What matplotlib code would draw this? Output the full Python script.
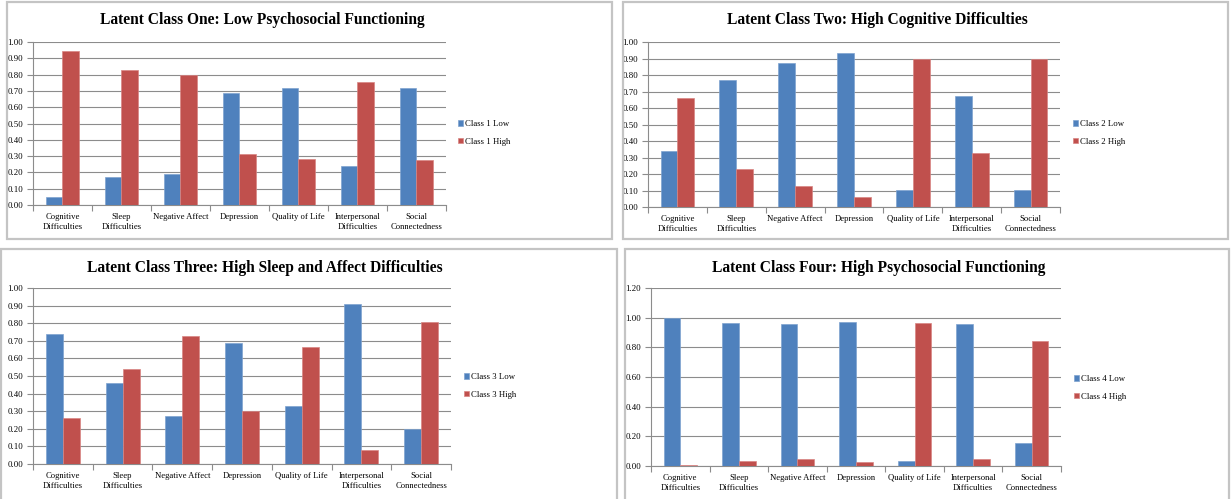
import matplotlib
matplotlib.use("Agg")
import matplotlib.pyplot as plt
from matplotlib.patches import Rectangle
import numpy as np

plt.rcParams['font.family'] = ['Liberation Serif', 'DejaVu Serif']

categories = ["Cognitive\nDifficulties", "Sleep\nDifficulties", "Negative Affect",
              "Depression", "Quality of Life", "Interpersonal\nDifficulties",
              "Social\nConnectedness"]

titles = ["Latent Class One: Low Psychosocial Functioning",
          "Latent Class Two: High Cognitive Difficulties",
          "Latent Class Three: High Sleep and Affect Difficulties",
          "Latent Class Four: High Psychosocial Functioning"]

class1_low = [0.05, 0.17, 0.19, 0.69, 0.715, 0.24, 0.72]
class1_high = [0.945, 0.83, 0.80, 0.31, 0.285, 0.755, 0.275]
class2_low = [0.34, 0.77, 0.875, 0.935, 0.105, 0.67, 0.105]
class2_high = [0.66, 0.23, 0.125, 0.06, 0.895, 0.33, 0.895]
class3_low = [0.74, 0.46, 0.27, 0.69, 0.33, 0.91, 0.20]
class3_high = [0.26, 0.54, 0.73, 0.30, 0.665, 0.08, 0.805]
class4_low = [1.00, 0.965, 0.955, 0.97, 0.035, 0.955, 0.155]
class4_high = [0.01, 0.035, 0.045, 0.03, 0.965, 0.045, 0.84]

series = [(class1_low, class1_high), (class2_low, class2_high),
          (class3_low, class3_high), (class4_low, class4_high)]
legend_labels = [("Class 1 Low", "Class 1 High"), ("Class 2 Low", "Class 2 High"),
                 ("Class 3 Low", "Class 3 High"), ("Class 4 Low", "Class 4 High")]
y_max = [1.0, 1.0, 1.0, 1.2]
y_step = [0.1, 0.1, 0.1, 0.2]

W, H = 1231, 499
fig = plt.figure(figsize=(W / 100, H / 100), dpi=100)

def rect(l, t, r, b):
    return [l / W, 1 - b / H, (r - l) / W, (b - t) / H]

axes_px = [(33, 42, 446, 205), (648, 42, 1060, 207),
           (33, 288, 451, 464), (651, 288, 1061, 466)]
boxes_px = [(7, 2, 612, 239), (623, 2, 1228, 239),
            (1, 249, 617, 502), (625, 249, 1229, 502)]
title_px = [(262, 20), (877, 20), (265, 268), (879, 268)]
legend_px = [(458, 127), (1073, 127), (464, 380), (1074, 382)]

BLUE = "#4F81BD"
RED = "#C0504D"
GRID = "#8C8C8C"

for i in range(4):
    l, t, r, b = boxes_px[i]
    fig.patches.append(Rectangle((l / W, 1 - b / H), (r - l) / W, (b - t) / H,
                                 transform=fig.transFigure, fill=False,
                                 edgecolor="#C4C4C4", linewidth=1.6))
    ax = fig.add_axes(rect(*axes_px[i]))
    low, high = series[i]
    x = np.arange(len(categories))
    w = 1 / 3.5
    ax.bar(x - w / 2, low, w, color=BLUE, edgecolor="#7FA3D0", linewidth=0.5,
           label=legend_labels[i][0], zorder=3)
    ax.bar(x + w / 2, high, w, color=RED, edgecolor="#D88583", linewidth=0.5,
           label=legend_labels[i][1], zorder=3)
    ax.set_xlim(-0.5, len(categories) - 0.5)
    ax.set_ylim(0, y_max[i])
    yt = np.round(np.arange(0, y_max[i] + 1e-9, y_step[i]), 2)
    ax.set_yticks(yt)
    ax.set_yticklabels([f"{v:.2f}" for v in yt], fontsize=6.3)
    ax.set_xticks(np.arange(-0.5, len(categories), 1.0))
    ax.set_xticklabels([])
    ax.set_xticks(x, minor=True)
    ax.set_xticklabels(categories, minor=True, fontsize=6.2, linespacing=1.3)
    ax.tick_params(axis='x', which='minor', length=0, pad=6)
    ax.tick_params(axis='x', which='major', length=4, color=GRID, direction='out')
    ax.tick_params(axis='y', length=4, color=GRID, direction='out', pad=3)
    ax.yaxis.grid(True, color=GRID, linewidth=0.8, zorder=0)
    ax.set_axisbelow(True)
    for s in ['top', 'right']:
        ax.spines[s].set_visible(False)
    for s in ['left', 'bottom']:
        ax.spines[s].set_color(GRID)
        ax.spines[s].set_linewidth(0.8)
    tx, ty = title_px[i]
    fig.text(tx / W, 1 - ty / H, titles[i], ha='center', va='center',
             fontsize=11.2, fontweight='bold')
    lx, ly = legend_px[i]
    ax.legend(loc='upper left', bbox_to_anchor=(lx / W, 1 - (ly - 7) / H),
              bbox_transform=fig.transFigure, frameon=False, fontsize=6.3,
              handlelength=0.55, handleheight=0.55, handletextpad=0.2,
              labelspacing=1.1, borderpad=0, borderaxespad=0)

fig.savefig("out.png", dpi=100)
